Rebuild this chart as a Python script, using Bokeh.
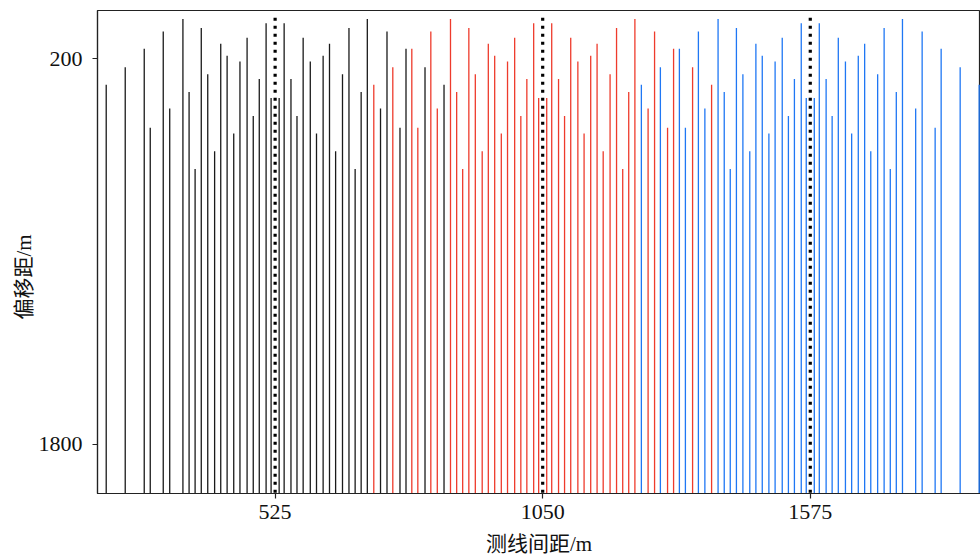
from bokeh.plotting import figure
from bokeh.models import Range1d, FixedTicker, Title
from bokeh.core.properties import value
from bokeh.embed import file_html
from bokeh.resources import INLINE

# ---- data ----
centers = [525, 1050, 1575]                 # survey line positions (m)
group_colors = ["#1a1a1a", "#ee3b2c", "#1f77f4"]

# offsets of each beam line from its survey line centre (m)
offsets = [-331.4, -294.1, -256.8, -245.0, -219.5, -206.8, -180.9, -168.8,
           -157.0, -144.9, -132.2, -118.7, -106.7, -94.2, -81.2, -69.0,
           -55.0, -42.9, -31.1, -17.7, -7.9,
           7.9, 17.7, 31.1, 42.9, 55.0, 69.0, 81.2, 94.2, 106.7, 118.7,
           132.2, 144.9, 157.0, 168.8, 180.9, 206.8, 219.5, 245.0, 256.8,
           294.1, 331.4]
# top (smallest offset distance) reached by each line (m)
tops = [308, 235, 159, 486, 87, 407, 35, 338, 658, 73, 265, 584, 138, 188,
        510, 212, 113, 438, 284, 53, 363,
        363, 53, 284, 438, 113, 212, 510, 188, 138, 584, 265, 73, 658, 338,
        35, 407, 87, 486, 159, 235, 308]

dotted_top = 30
y_bottom = 2004
x_ticks = [525, 1050, 1575]
y_ticks = [200, 1800]
x_label = "测线间距/m"
y_label = "偏移距/m"

SERIF = "Liberation Serif, Noto Sans CJK SC"

p = figure(width=980, height=558, output_backend="svg", toolbar_location=None,
           x_range=Range1d(176.5, 1909), y_range=Range1d(y_bottom, 0),
           min_border_left=97, min_border_right=0, min_border_top=10,
           min_border_bottom=64)
p.outline_line_color = "#222222"
p.outline_line_width = 1.2
p.xgrid.visible = False
p.ygrid.visible = False
p.background_fill_color = "white"
p.border_fill_color = "white"

for c, col in zip(centers, group_colors):
    xs = [c + o for o in offsets]
    p.segment(x0=xs, y0=[y_bottom] * len(xs), x1=xs, y1=tops,
              line_color=col, line_width=1.3)

p.segment(x0=centers, y0=[dotted_top] * len(centers), x1=centers,
          y1=[y_bottom] * len(centers), line_color="black", line_width=3.2,
          line_dash="3 5", line_cap="butt")

for ax, ticks in ((p.xaxis[0], x_ticks), (p.yaxis[0], y_ticks)):
    ax.ticker = FixedTicker(ticks=ticks)
    ax.minor_tick_line_color = None
    ax.major_tick_in = 0
    ax.major_tick_out = 5
    ax.major_tick_line_color = "#222222"
    ax.major_tick_line_width = 1.2
    ax.axis_line_color = "#222222"
    ax.axis_line_width = 1.2
    ax.major_label_text_font = SERIF
    ax.major_label_text_font_size = "22px"
    ax.major_label_text_color = "#111111"

p.xaxis.major_label_standoff = 6
p.yaxis.major_label_standoff = 10
p.xaxis.major_label_text_line_height = 0.8

p.xaxis.axis_label = x_label
p.xaxis.axis_label_text_font = SERIF
p.xaxis.axis_label_text_font_size = "21px"
p.xaxis.axis_label_text_font_style = "normal"
p.xaxis.axis_label_text_color = "#111111"
p.xaxis.axis_label_text_line_height = 0.8
p.xaxis.axis_label_standoff = 10

p.add_layout(Title(text=y_label, align="left", offset=174,
                   text_font=SERIF, text_font_size="21px",
                   text_font_style="normal", text_color="#111111",
                   standoff=0), "left")

open("out.html", "w").write(file_html(p, INLINE))
